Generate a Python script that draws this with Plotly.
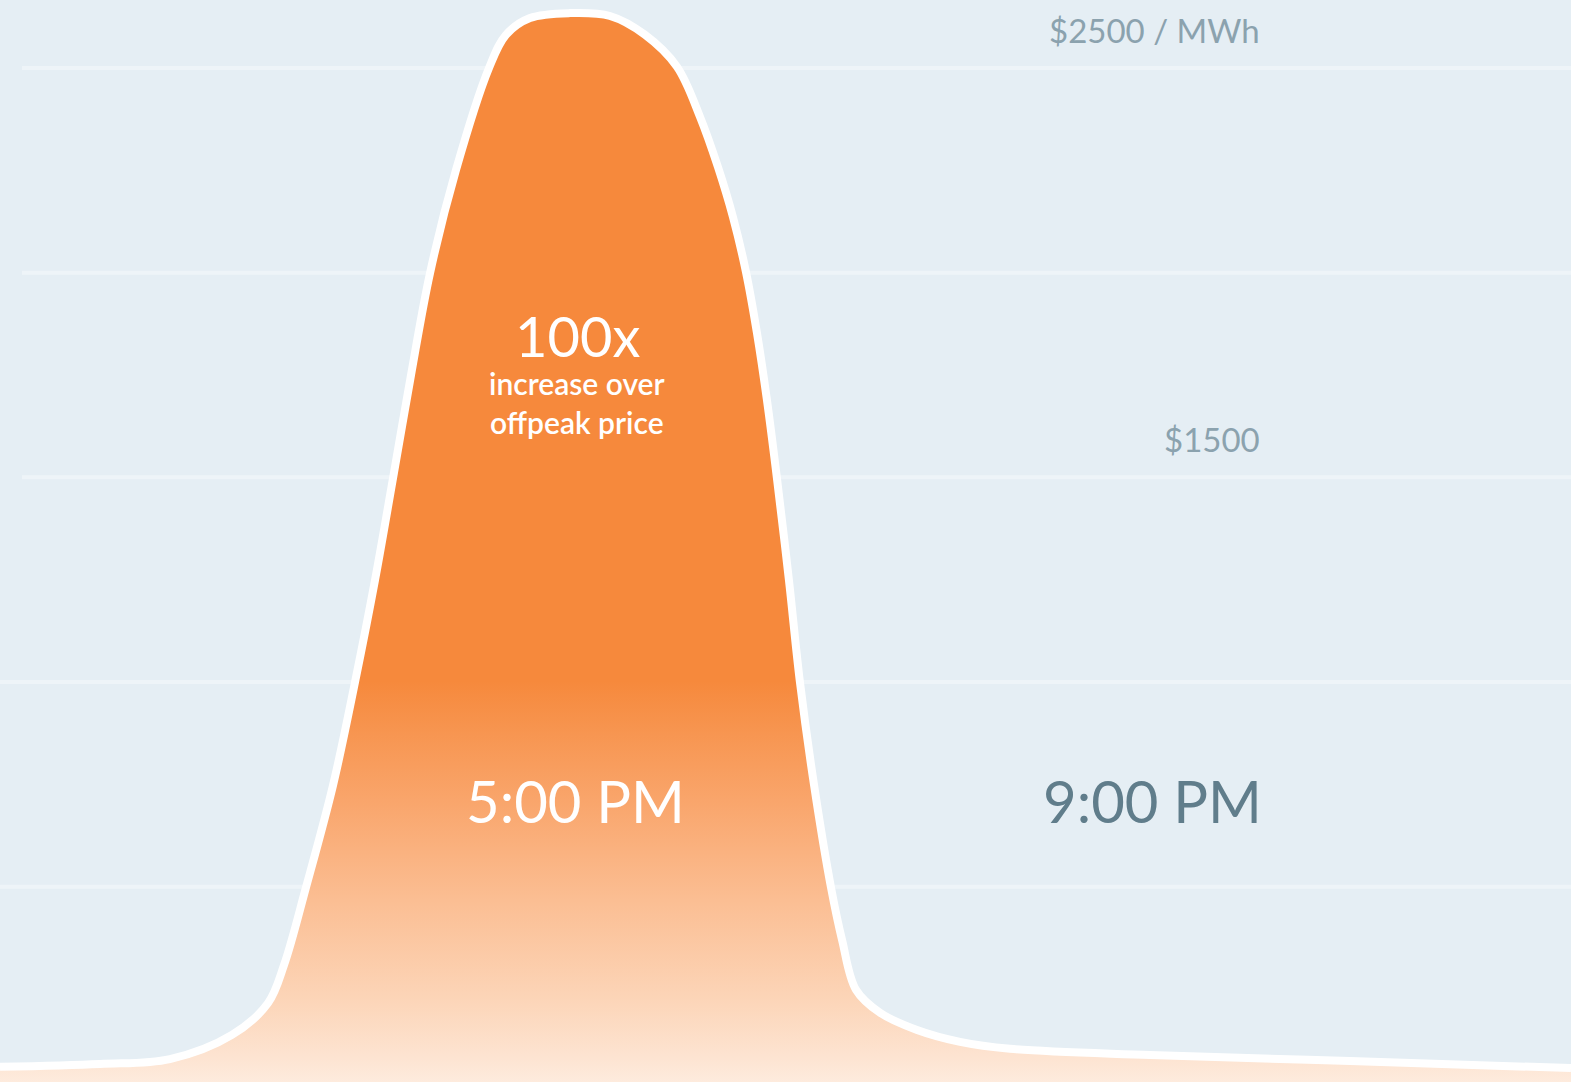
import plotly.graph_objects as go

# Electricity price over the afternoon/evening (hour of day, $/MWh)
hours = [13.000, 13.700, 14.190, 14.624, 14.877, 14.989, 15.143, 15.332,
         15.486, 15.626, 15.752, 15.878, 16.011, 16.193, 16.424, 16.543,
         16.711, 16.991, 17.271, 17.516, 17.740, 17.901, 18.027, 18.132,
         18.223, 18.300, 18.370, 18.440, 18.524, 18.601, 18.700, 18.818,
         18.896, 18.994, 19.162, 19.421, 19.722, 20.072, 21.052, 22.453,
         24.000]
price = [60, 67, 79, 138, 216, 309, 499, 748,
         1000, 1249, 1498, 1750, 1999, 2251, 2500, 2581,
         2622, 2634, 2627, 2581, 2503, 2381, 2258, 2136,
         2002, 1853, 1689, 1498, 1249, 1000, 748, 499,
         370, 248, 192, 150, 121, 104, 89, 74,
         57]

grid_values = [2500, 2000, 1500, 1000, 500]
price_labels = [(2500, "$2500 / MWh"), (1500, "$1500")]
time_labels = [(17, "5:00 PM", "white"), (21, "9:00 PM", "#607d8b")]
headline = "100x"
subline = "increase over<br>offpeak price"

BG = "#e5eef4"
GRID = "#eef4f8"
ORANGE = "#f6893c"
Y_MIN, Y_MAX = 23, 2666

fig = go.Figure()

fig.add_trace(go.Scatter(
    x=hours,
    y=price,
    mode="lines",
    line=dict(color="white", width=8, shape="spline", smoothing=1.0),
    fill="tozeroy",
    fillgradient=dict(
        type="vertical",
        start=0,
        stop=Y_MAX,
        colorscale=[
            [0.0, "#feeee2"],
            [0.03, "#fde4d2"],
            [0.084, "#fcd5b8"],
            [0.175, "#fbbe93"],
            [0.267, "#f9a56b"],
            [0.33, "#f79550"],
            [0.376, ORANGE],
            [1.0, ORANGE],
        ],
    ),
    hoverinfo="skip",
    showlegend=False,
))

# Horizontal guide lines every $500
shapes = []
for v in grid_values:
    shapes.append(dict(
        type="line", xref="paper", yref="y",
        x0=0.014 if v >= 1500 else 0.0, x1=1.0, y0=v, y1=v,
        line=dict(color=GRID, width=4), layer="below",
    ))

annotations = []
for v, txt in price_labels:
    annotations.append(dict(
        x=0.8035, xref="paper", y=v, yref="y",
        xanchor="right", yanchor="middle", yshift=38,
        text=txt, showarrow=False,
        font=dict(family="Lato", size=33, color="#8ba2ae"),
    ))

for h, txt, col in time_labels:
    annotations.append(dict(
        x=h, y=710, xref="x", yref="y",
        xanchor="center", yanchor="middle",
        xshift=4 if h == 17 else 10,
        text=txt, showarrow=False,
        font=dict(family="Lato", size=58, color=col),
    ))

annotations.append(dict(
    x=17, y=1846, xref="x", yref="y", xanchor="center", yanchor="middle",
    xshift=6, text=headline, showarrow=False,
    font=dict(family="Lato", size=56, color="white"),
))
annotations.append(dict(
    x=17, y=1682, xref="x", yref="y", xanchor="center", yanchor="middle",
    xshift=6, text=subline, showarrow=False,
    font=dict(family="Lato", size=30, color="white", weight=600),
))

fig.update_layout(
    width=1571,
    height=1082,
    margin=dict(l=0, r=0, t=0, b=0),
    paper_bgcolor=BG,
    plot_bgcolor=BG,
    xaxis=dict(range=[13, 24], visible=False, fixedrange=True),
    yaxis=dict(range=[Y_MIN, Y_MAX], visible=False, fixedrange=True),
    shapes=shapes,
    annotations=annotations,
    showlegend=False,
)

fig.write_html("out.html", config={"displayModeBar": False})
